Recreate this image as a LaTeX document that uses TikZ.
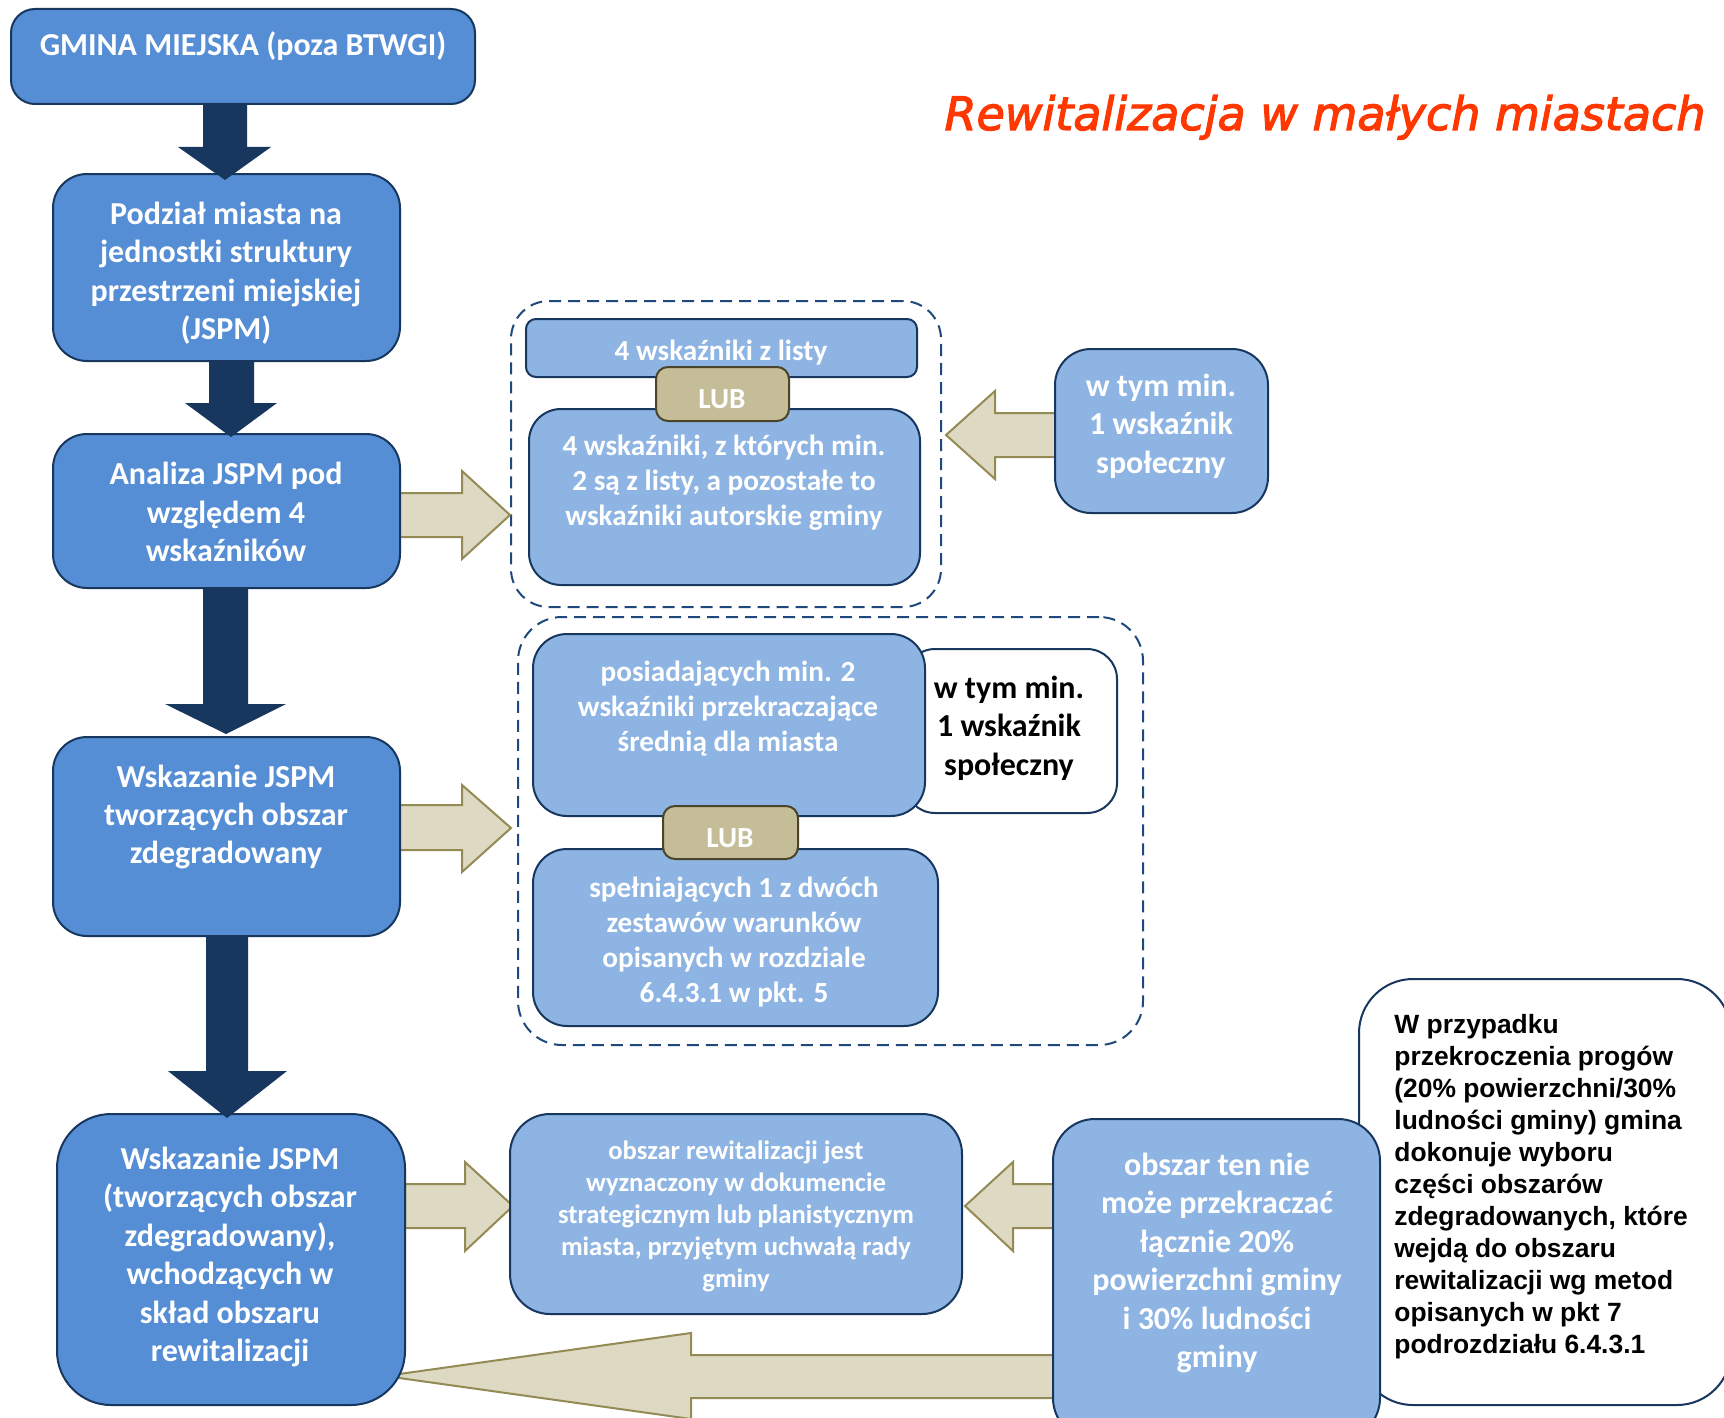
\documentclass[tikz,border=0pt]{standalone}
\usepackage{fontspec}
\setmainfont{Carlito}
\newfontfamily\arialfont{Liberation Sans}
\newfontfamily\titlefont{DejaVu Sans Oblique}[FakeBold=2.5]
\usetikzlibrary{fit}
\definecolor{darkfill}{RGB}{85,142,213}
\definecolor{lightfill}{RGB}{142,180,227}
\definecolor{navy}{RGB}{23,55,94}
\definecolor{dashnavy}{RGB}{31,73,125}
\definecolor{tanfill}{RGB}{221,217,195}
\definecolor{tanline}{RGB}{148,138,84}
\definecolor{lubfill}{RGB}{196,189,151}
\definecolor{lubline}{RGB}{74,69,42}
\definecolor{titlered}{RGB}{255,55,0}
\begin{document}
\begin{tikzpicture}[x=0.5pt,y=-0.5pt,
  box/.style={draw=navy,line width=1pt,inner sep=0pt},
  darkbox/.style={box,fill=darkfill},
  lightbox/.style={box,fill=lightfill},
  whitebox/.style={box,fill=white},
  lubbox/.style={draw=lubline,line width=1pt,fill=lubfill,inner sep=0pt,rounded corners=6pt},
  dashbox/.style={draw=dashnavy,line width=1pt,dash pattern=on 6pt off 3.5pt,inner sep=0pt},
  bigtxt/.style={align=center,text=white,inner sep=0pt,font=\bfseries\fontsize{16}{19.2}\selectfont},
  midtxt/.style={align=center,text=white,inner sep=0pt,font=\bfseries\fontsize{14.6}{17.5}\selectfont},
  smalltxt/.style={align=center,text=white,inner sep=0pt,font=\bfseries\fontsize{13.3}{16}\selectfont},
  darkarrow/.style={fill=navy,draw=none},
  tanarrow/.style={fill=tanfill,draw=tanline,line width=1pt,line join=miter}]
\useasboundingbox (0,0) rectangle (1724,1418);
\fill[white] (0,0) rectangle (1724,1418);

% dashed groups
\node[dashbox,rounded corners=19pt,fit={(511,301) (941,607)}] (grp1) {};
\node[dashbox,rounded corners=22pt,fit={(518,617) (1143,1045)}] (grp2) {};

% tan block arrows
\draw[tanarrow] (399,493) -- (462,493) -- (462,471) -- (510,515) -- (462,559) -- (462,537) -- (399,537) -- cycle;
\draw[tanarrow] (1055,413) -- (995,413) -- (995,391) -- (946,435) -- (995,479) -- (995,457) -- (1055,457) -- cycle;
\draw[tanarrow] (399,805) -- (462,805) -- (462,785) -- (511,828) -- (462,872) -- (462,850) -- (399,850) -- cycle;
\draw[tanarrow] (405,1184) -- (465,1184) -- (465,1162) -- (513,1206) -- (465,1251) -- (465,1228) -- (405,1228) -- cycle;
\draw[tanarrow] (1055,1184) -- (1013,1184) -- (1013,1162) -- (965,1206) -- (1013,1251) -- (1013,1228) -- (1055,1228) -- cycle;
\draw[tanarrow] (1060,1355) -- (691,1355) -- (691,1333) -- (385,1376) -- (691,1419) -- (691,1398) -- (1060,1398) -- cycle;

% left column
\node[darkbox,rounded corners=12pt,fit={(11,9) (475,104)}] (gmina) {};
\node[bigtxt] (gminaT) at (243,46) {GMINA MIEJSKA (poza BTWGI)};
\node[darkbox,rounded corners=17pt,fit={(53,174) (400,361)}] (podzial) {};
\node[bigtxt] (podzialT) at (226,273) {Podział miasta na\\jednostki struktury\\przestrzeni miejskiej\\(JSPM)};
\node[darkbox,rounded corners=17pt,fit={(53,434) (400,588)}] (analiza) {};
\node[bigtxt] (analizaT) at (226,512) {Analiza JSPM pod\\względem 4\\wskaźników};
\node[darkbox,rounded corners=17pt,fit={(53,737) (400,936)}] (wsk) {};
\node[bigtxt] (wskT) at (226,817) {Wskazanie JSPM\\tworzących obszar\\zdegradowany};
\node[darkbox,rounded corners=27pt,fit={(57,1114) (405,1405)}] (wsk2) {};
\node[bigtxt] (wsk2T) at (230,1257) {Wskazanie JSPM\\(tworzących obszar\\zdegradowany),\\wchodzących w\\skład obszaru\\rewitalizacji};

% dark arrows
\fill[darkarrow] (203,104) -- (247,104) -- (247,147) -- (271,147) -- (225,180) -- (178,147) -- (203,147) -- cycle;
\fill[darkarrow] (209,361) -- (254,361) -- (254,403) -- (277,403) -- (231,437) -- (185,403) -- (209,403) -- cycle;
\fill[darkarrow] (203,588) -- (248,588) -- (248,704) -- (286,704) -- (226,734) -- (165,704) -- (203,704) -- cycle;
\fill[darkarrow] (206,936) -- (248,936) -- (248,1071) -- (287,1071) -- (227,1118) -- (168,1071) -- (206,1071) -- cycle;

% group 1
\node[lightbox,rounded corners=5pt,fit={(526,319) (917,377)}] (lista) {};
\node[midtxt] (listaT) at (721,353) {4 wskaźniki z listy};
\node[lightbox,rounded corners=16pt,fit={(529,409) (920,585)}] (autor) {};
\node[midtxt] (autorT) at (724,483) {4 wskaźniki, z których min.\\2 są z listy, a pozostałe to\\wskaźniki autorskie gminy};
\node[lubbox,fit={(656,367) (789,421)}] (lub1) {};
\node[midtxt] (lub1T) at (722,399) {LUB};
\node[lightbox,rounded corners=18pt,fit={(1055,349) (1268,513)}] (spol1) {};
\node[bigtxt] (spol1T) at (1161,426) {w tym min.\\1 wskaźnik\\społeczny};

% group 2
\node[whitebox,rounded corners=15pt,fit={(905,649) (1117,813)}] (spol2) {};
\node[bigtxt,text=black] (spol2T) at (1009,728) {w tym min.\\1 wskaźnik\\społeczny};
\node[lightbox,rounded corners=17pt,fit={(533,634) (925,816)}] (posiad) {};
\node[midtxt] (posiadT) at (728,709) {posiadających min. 2\\wskaźniki przekraczające\\średnią dla miasta};
\node[lightbox,rounded corners=17pt,fit={(533,849) (938,1026)}] (spel) {};
\node[midtxt] (spelT) at (734,942) {spełniających 1 z dwóch\\zestawów warunków\\opisanych w rozdziale\\6.4.3.1 w pkt. 5};
\node[lubbox,fit={(663,806) (798,859)}] (lub2) {};
\node[midtxt] (lub2T) at (730,838) {LUB};

% bottom row
\node[lightbox,rounded corners=20pt,fit={(510,1114) (962,1314)}] (obszar) {};
\node[smalltxt] (obszarT) at (736,1216) {obszar rewitalizacji jest\\wyznaczony w dokumencie\\strategicznym lub planistycznym\\miasta, przyjętym uchwałą rady\\gminy};
\node[whitebox,rounded corners=27pt,fit={(1359,979) (1731,1405)}] (uwaga) {};
\node[align=left,anchor=west,inner sep=0pt,text=black,font=\arialfont\bfseries\fontsize{13.2}{16}\selectfont] (uwagaT) at (1394,1187) {W przypadku\\przekroczenia progów\\(20\% powierzchni/30\%\\ludności gminy) gmina\\dokonuje wyboru\\części obszarów\\zdegradowanych, które\\wejdą do obszaru\\rewitalizacji wg metod\\opisanych w pkt 7\\podrozdziału 6.4.3.1};
\node[lightbox,rounded corners=21pt,fit={(1053,1119) (1380,1440)}] (limit) {};
\node[bigtxt] (limitT) at (1217,1263) {obszar ten nie\\może przekraczać\\łącznie 20\%\\powierzchni gminy\\i 30\% ludności\\gminy};

% title
\node[anchor=base,inner sep=0pt,text=titlered,font=\titlefont\fontsize{23}{27}\selectfont] (title) at (1325,130) {Rewitalizacja w małych miastach};
\end{tikzpicture}
\end{document}
